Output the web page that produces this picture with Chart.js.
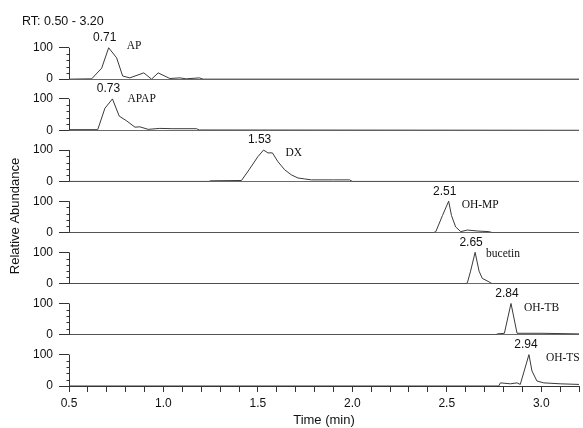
<!DOCTYPE html>
<html>
<head>
<meta charset="utf-8">
<script src="https://cdn.jsdelivr.net/npm/chart.js@4/dist/chart.umd.min.js"></script>
<style>
  html, body { margin: 0; padding: 0; background: #fff; }
  #wrap { width: 583px; height: 428px; }
</style>
</head>
<body>
<div id="wrap"><canvas id="c" width="583" height="428"></canvas></div>
<script>
// ---- data ----
const compounds = ['AP', 'APAP', 'DX', 'OH-MP', 'bucetin', 'OH-TB', 'OH-TS'];
const peakRT = [0.71, 0.73, 1.53, 2.51, 2.65, 2.84, 2.94];

const timeAP = [0.50, 0.62, 0.673, 0.71, 0.752, 0.784, 0.822, 0.896, 0.937, 0.972, 1.034, 1.087, 1.12, 1.19, 1.21, 3.20];
const abundAP = [0, 1, 35, 100, 68, 10, 4, 20, 0, 20, 2, 4, 1, 4, 0, 0];

const timeAPAP = [0.50, 0.652, 0.690, 0.73, 0.766, 0.805, 0.849, 0.875, 0.919, 0.981, 1.05, 1.175, 1.19, 3.20];
const abundAPAP = [2, 2, 70, 100, 45, 30, 10, 11, 3, 6, 5, 5, 1, 0];

const timeDX = [0.50, 1.24, 1.25, 1.413, 1.453, 1.50, 1.53, 1.553, 1.577, 1.606, 1.642, 1.677, 1.712, 1.747, 1.783, 1.90, 1.985, 2.0, 3.20];
const abundDX = [0, 0, 2, 3, 37, 79, 100, 91, 91, 63, 37, 21, 11, 8, 5, 5, 5, 0, 0];

const timeOHMP = [0.50, 2.43, 2.442, 2.477, 2.51, 2.525, 2.547, 2.574, 2.609, 2.662, 2.723, 2.74, 3.20];
const abundOHMP = [0, 0, 3, 54, 100, 54, 18, 3, 8, 5, 3, 0, 0];

const timeBucetin = [0.50, 2.60, 2.609, 2.626, 2.65, 2.671, 2.688, 2.723, 2.74, 3.20];
const abundBucetin = [0, 0, 3, 40, 100, 40, 17, 6, 0, 0];

const timeOHTB = [0.50, 2.76, 2.767, 2.805, 2.84, 2.872, 3.004, 3.20];
const abundOHTB = [0, 0, 3, 5, 100, 5, 5, 3];

const timeOHTS = [0.50, 2.775, 2.784, 2.837, 2.872, 2.889, 2.935, 2.951, 2.977, 3.013, 3.10, 3.20];
const abundOHTS = [0, 0, 10, 7, 10, 5, 100, 48, 16, 10, 7, 5];

const xTickLabels = ['0.5', '1.0', '1.5', '2.0', '2.5', '3.0'];
const yTickLabels = ['0', '100'];
const rangeText = 'RT: 0.50 - 3.20';
const yTitle = 'Relative Abundance';
const xTitle = 'Time (min)';

// ---- build chart ----
const seriesTimes = [timeAP, timeAPAP, timeDX, timeOHMP, timeBucetin, timeOHTB, timeOHTS];
const seriesVals = [abundAP, abundAPAP, abundDX, abundOHMP, abundBucetin, abundOHTB, abundOHTS];

const FONT = 'Liberation Sans, Arial, sans-serif';
Chart.defaults.font.family = FONT;
Chart.defaults.color = '#111';

const datasets = compounds.map((name, i) => ({
  label: name,
  data: seriesTimes[i].map((t, k) => ({ x: t, y: seriesVals[i][k] })),
  yAxisID: 'y' + i,
  borderColor: '#3a3a3a',
  borderWidth: 1,
  pointRadius: 0,
  tension: 0,
  fill: false
}));

const scales = {
  x: {
    type: 'linear',
    min: 0.5, max: 3.2,
    ticks: {
      stepSize: 0.1,
      autoSkip: false,
      maxRotation: 0,
      padding: 4,
      font: { size: 12 },
      color: '#111',
      callback: (v) => {
        const lab = (Math.round(v * 10) / 10).toFixed(1);
        return xTickLabels.includes(lab) ? lab : '';
      }
    },
    grid: { drawOnChartArea: false, tickLength: 6, tickColor: '#333' },
    border: { display: true, color: '#333', width: 1 },
    title: { display: true, text: xTitle, font: { size: 13 }, color: '#111', padding: { top: 0, bottom: 0 } },
    afterFit: (s) => { s.height = 42; }
  }
};
compounds.forEach((_, i) => {
  scales['y' + i] = {
    type: 'linear',
    position: 'left',
    stack: 'panels',
    stackWeight: 1,
    weight: -i,
    min: 0, max: 163,
    afterBuildTicks: (s) => { s.ticks = [0, 100].map(v => ({ value: v })); },
    ticks: {
      autoSkip: false,
      padding: 6,
      font: { size: 12 },
      color: '#111',
      callback: (v) => yTickLabels.includes(String(v)) ? String(v) : ''
    },
    grid: {
      drawOnChartArea: true,
      tickLength: 10,
      color: (c) => (c.tick && c.tick.value === 0) ? '#6a6a6a' : 'rgba(0,0,0,0)',
      tickColor: '#333',
      lineWidth: 1
    },
    border: { display: false },
    afterFit: (s) => { s.width = 69; }
  };
});

const nameDx = [18, 15, 22, 13, 11, 13, 16];
const nameDy = [-2, 0, 3, 4, 2, 5, 3];

const overlay = {
  id: 'overlay',
  afterDraw(chart) {
    const ctx = chart.ctx;
    const area = chart.chartArea;
    const xs = chart.scales.x;
    ctx.save();
    ctx.strokeStyle = '#333';
    ctx.lineWidth = 1;
    const ax = Math.round(area.left) + 0.5;
    compounds.forEach((name, i) => {
      const ys = chart.scales['y' + i];
      // axis bracket 0..100 with minor ticks
      ctx.beginPath();
      ctx.moveTo(ax, ys.getPixelForValue(0));
      ctx.lineTo(ax, ys.getPixelForValue(100));
      [20, 40, 60, 80].forEach(v => {
        const yy = Math.round(ys.getPixelForValue(v)) + 0.5;
        ctx.moveTo(ax - 3, yy);
        ctx.lineTo(ax, yy);
      });
      ctx.stroke();
      // peak labels
      const px = xs.getPixelForValue(peakRT[i]);
      const py = ys.getPixelForValue(100);
      ctx.fillStyle = '#111';
      ctx.font = '12px ' + FONT;
      ctx.textAlign = 'center';
      ctx.textBaseline = 'middle';
      ctx.fillText(peakRT[i].toFixed(2), px - 4, py - 10);
      ctx.font = '11.5px "Liberation Serif", "Times New Roman", serif';
      ctx.textAlign = 'left';
      const room = chart.width - (px + nameDx[i]) - 1;
      ctx.fillText(name, px + nameDx[i], py + nameDy[i], Math.max(room, 10));
    });
    // top-left range text
    ctx.font = '12.5px ' + FONT;
    ctx.textAlign = 'left';
    ctx.textBaseline = 'middle';
    ctx.fillStyle = '#111';
    ctx.fillText(rangeText, 22, 22);
    // y title
    ctx.translate(15, 216);
    ctx.rotate(-Math.PI / 2);
    ctx.font = '13px ' + FONT;
    ctx.textAlign = 'center';
    ctx.fillText(yTitle, 0, 0);
    ctx.restore();
  }
};

new Chart(document.getElementById('c'), {
  type: 'line',
  data: { datasets },
  options: {
    responsive: false,
    animation: false,
    parsing: true,
    layout: { padding: { top: 28, left: 0, right: 1, bottom: 0 } },
    plugins: { legend: { display: false }, tooltip: { enabled: false }, title: { display: false } },
    scales
  },
  plugins: [overlay]
});
</script>
</body>
</html>
